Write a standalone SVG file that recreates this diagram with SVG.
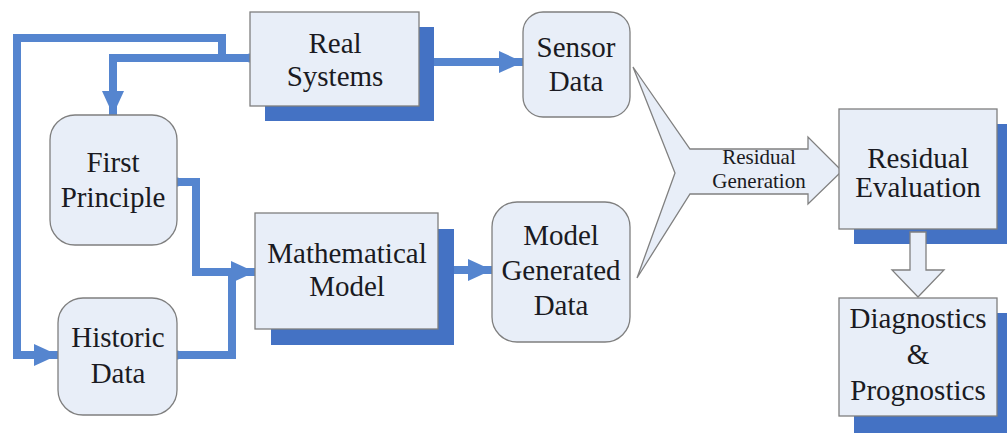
<svg xmlns="http://www.w3.org/2000/svg" width="1007" height="433" viewBox="0 0 1007 433">
<style>
.box{fill:#e8eef8;stroke:#7f7f7f;stroke-width:1.3}
.shadow{fill:#4472c4}
.conn{fill:none;stroke:#5585cf;stroke-width:8;stroke-linejoin:miter}
.dot{fill:#5585cf}
.big{fill:#e8eef8;stroke:#808080;stroke-width:1.3;stroke-linejoin:miter}
text{fill:#1a1a22;text-anchor:middle}
.t{font-size:29px}
.s{font-size:21px}
</style>
<defs>
<marker id="ah" markerUnits="userSpaceOnUse" markerWidth="26" markerHeight="24" refX="24" refY="11" orient="auto">
<path d="M0,0 L24,11 L0,22 z" fill="#5585cf"/>
</marker>
</defs>
<rect width="1007" height="433" fill="#ffffff"/>

<g id="connectors">
<path class="conn" d="M250,58 H222 V38 H17 V355 H58" marker-end="url(#ah)"/>
<path class="conn" d="M250,58 H113 V115" marker-end="url(#ah)"/>
<path class="conn" d="M419,62 H523" marker-end="url(#ah)"/>
<path class="conn" d="M177,182 H196 V272 H255" marker-end="url(#ah)"/>
<path class="conn" d="M177,355 H232 V272"/>
<path class="conn" d="M438,270 H492" marker-end="url(#ah)"/>
<circle class="dot" cx="250" cy="58" r="4.5"/>
<circle class="dot" cx="419" cy="62" r="4.5"/>
<circle class="dot" cx="177" cy="182" r="4.5"/>
<circle class="dot" cx="177" cy="355" r="4.5"/>
<circle class="dot" cx="438" cy="270" r="4.5"/>
</g>

<g font-family="'Liberation Serif', 'DejaVu Serif', serif">
<g id="real-systems">
<rect class="shadow" x="265" y="27" width="169" height="94"/>
<rect class="box" x="250" y="12" width="169" height="94"/>
<text class="t" x="335" y="53">Real</text>
<text class="t" x="335" y="86">Systems</text>
</g>

<g id="sensor-data">
<rect class="box" x="523" y="12" width="107" height="105" rx="20"/>
<text class="t" x="576" y="57">Sensor</text>
<text class="t" x="576" y="91">Data</text>
</g>

<g id="first-principle">
<rect class="box" x="50" y="115" width="127" height="130" rx="25"/>
<text class="t" x="113" y="172">First</text>
<text class="t" x="113" y="207">Principle</text>
</g>

<g id="historic-data">
<rect class="box" x="58" y="298" width="119" height="117" rx="25"/>
<text class="t" x="118" y="347">Historic</text>
<text class="t" x="118" y="383">Data</text>
</g>

<g id="mathematical-model">
<rect class="shadow" x="271" y="229" width="183" height="116"/>
<rect class="box" x="255" y="213" width="183" height="116"/>
<text class="t" x="347" y="263">Mathematical</text>
<text class="t" x="347" y="296">Model</text>
</g>

<g id="model-generated-data">
<rect class="box" x="492" y="202" width="138" height="140" rx="25"/>
<text class="t" x="561" y="245">Model</text>
<text class="t" x="561" y="280">Generated</text>
<text class="t" x="561" y="315">Data</text>
</g>

<g id="residual-generation">
<polygon class="big" points="633,67 690,149 808,149 808,137 842,171 808,204 808,194 690,194 637,278 675,173"/>
<text class="s" x="759" y="164">Residual</text>
<text class="s" x="759" y="188">Generation</text>
</g>

<g id="residual-evaluation">
<rect class="shadow" x="854" y="124" width="158" height="120"/>
<rect class="box" x="839" y="109" width="158" height="120"/>
<text class="t" x="918" y="168">Residual</text>
<text class="t" x="918" y="197">Evaluation</text>
</g>

<g id="down-arrow">
<polygon class="big" points="910,232 926,232 926,270 944,270 918,297 892,270 910,270"/>
</g>

<g id="diagnostics-prognostics">
<rect class="shadow" x="854" y="313" width="158" height="120"/>
<rect class="box" x="839" y="298" width="158" height="118"/>
<text class="t" x="918" y="328">Diagnostics</text>
<text class="t" x="918" y="364">&amp;</text>
<text class="t" x="918" y="400">Prognostics</text>
</g>
</g>
</svg>
